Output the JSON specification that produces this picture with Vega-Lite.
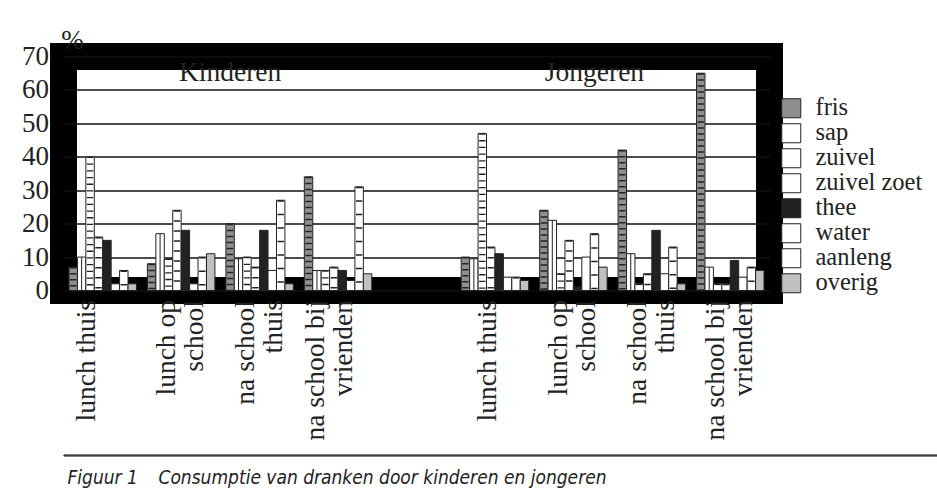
{
  "$schema": "https://vega.github.io/schema/vega-lite/v6.json",
  "background": "white",
  "padding": {"left": 7.5, "top": 12.5, "right": 0, "bottom": 0},
  "config": {"font": "Liberation Serif", "concat": {"spacing": -5}},
  "datasets": {
    "dranken": [
      {"cat": "Kinderen|lunch thuis", "drank": "fris", "pct": 7},
      {"cat": "Kinderen|lunch thuis", "drank": "sap", "pct": 10},
      {"cat": "Kinderen|lunch thuis", "drank": "zuivel", "pct": 40},
      {"cat": "Kinderen|lunch thuis", "drank": "zuivel zoet", "pct": 16},
      {"cat": "Kinderen|lunch thuis", "drank": "thee", "pct": 15},
      {"cat": "Kinderen|lunch thuis", "drank": "water", "pct": 2},
      {"cat": "Kinderen|lunch thuis", "drank": "aanleng", "pct": 6},
      {"cat": "Kinderen|lunch thuis", "drank": "overig", "pct": 2},
      {"cat": "Kinderen|lunch op school", "drank": "fris", "pct": 8},
      {"cat": "Kinderen|lunch op school", "drank": "sap", "pct": 17},
      {"cat": "Kinderen|lunch op school", "drank": "zuivel", "pct": 9.5},
      {"cat": "Kinderen|lunch op school", "drank": "zuivel zoet", "pct": 24},
      {"cat": "Kinderen|lunch op school", "drank": "thee", "pct": 18},
      {"cat": "Kinderen|lunch op school", "drank": "water", "pct": 2},
      {"cat": "Kinderen|lunch op school", "drank": "aanleng", "pct": 10},
      {"cat": "Kinderen|lunch op school", "drank": "overig", "pct": 11},
      {"cat": "Kinderen|na school thuis", "drank": "fris", "pct": 20},
      {"cat": "Kinderen|na school thuis", "drank": "sap", "pct": 9.5},
      {"cat": "Kinderen|na school thuis", "drank": "zuivel", "pct": 10},
      {"cat": "Kinderen|na school thuis", "drank": "zuivel zoet", "pct": 7},
      {"cat": "Kinderen|na school thuis", "drank": "thee", "pct": 18},
      {"cat": "Kinderen|na school thuis", "drank": "water", "pct": 6},
      {"cat": "Kinderen|na school thuis", "drank": "aanleng", "pct": 27},
      {"cat": "Kinderen|na school thuis", "drank": "overig", "pct": 2},
      {"cat": "Kinderen|na school bij vrienden", "drank": "fris", "pct": 34},
      {"cat": "Kinderen|na school bij vrienden", "drank": "sap", "pct": 6},
      {"cat": "Kinderen|na school bij vrienden", "drank": "zuivel", "pct": 6},
      {"cat": "Kinderen|na school bij vrienden", "drank": "zuivel zoet", "pct": 7},
      {"cat": "Kinderen|na school bij vrienden", "drank": "thee", "pct": 6},
      {"cat": "Kinderen|na school bij vrienden", "drank": "water", "pct": 3},
      {"cat": "Kinderen|na school bij vrienden", "drank": "aanleng", "pct": 31},
      {"cat": "Kinderen|na school bij vrienden", "drank": "overig", "pct": 5},
      {"cat": "Jongeren|lunch thuis", "drank": "fris", "pct": 10},
      {"cat": "Jongeren|lunch thuis", "drank": "sap", "pct": 9.5},
      {"cat": "Jongeren|lunch thuis", "drank": "zuivel", "pct": 47},
      {"cat": "Jongeren|lunch thuis", "drank": "zuivel zoet", "pct": 13},
      {"cat": "Jongeren|lunch thuis", "drank": "thee", "pct": 11},
      {"cat": "Jongeren|lunch thuis", "drank": "water", "pct": 4},
      {"cat": "Jongeren|lunch thuis", "drank": "aanleng", "pct": 4},
      {"cat": "Jongeren|lunch thuis", "drank": "overig", "pct": 3},
      {"cat": "Jongeren|lunch op school", "drank": "fris", "pct": 24},
      {"cat": "Jongeren|lunch op school", "drank": "sap", "pct": 21},
      {"cat": "Jongeren|lunch op school", "drank": "zuivel", "pct": 5},
      {"cat": "Jongeren|lunch op school", "drank": "zuivel zoet", "pct": 15},
      {"cat": "Jongeren|lunch op school", "drank": "thee", "pct": 1},
      {"cat": "Jongeren|lunch op school", "drank": "water", "pct": 10},
      {"cat": "Jongeren|lunch op school", "drank": "aanleng", "pct": 17},
      {"cat": "Jongeren|lunch op school", "drank": "overig", "pct": 7},
      {"cat": "Jongeren|na school thuis", "drank": "fris", "pct": 42},
      {"cat": "Jongeren|na school thuis", "drank": "sap", "pct": 11},
      {"cat": "Jongeren|na school thuis", "drank": "zuivel", "pct": 2},
      {"cat": "Jongeren|na school thuis", "drank": "zuivel zoet", "pct": 5},
      {"cat": "Jongeren|na school thuis", "drank": "thee", "pct": 18},
      {"cat": "Jongeren|na school thuis", "drank": "water", "pct": 5},
      {"cat": "Jongeren|na school thuis", "drank": "aanleng", "pct": 13},
      {"cat": "Jongeren|na school thuis", "drank": "overig", "pct": 2},
      {"cat": "Jongeren|na school bij vrienden", "drank": "fris", "pct": 65},
      {"cat": "Jongeren|na school bij vrienden", "drank": "sap", "pct": 7},
      {"cat": "Jongeren|na school bij vrienden", "drank": "zuivel", "pct": 2},
      {"cat": "Jongeren|na school bij vrienden", "drank": "zuivel zoet", "pct": 2},
      {"cat": "Jongeren|na school bij vrienden", "drank": "thee", "pct": 9},
      {"cat": "Jongeren|na school bij vrienden", "drank": "water", "pct": 4},
      {"cat": "Jongeren|na school bij vrienden", "drank": "aanleng", "pct": 7},
      {"cat": "Jongeren|na school bij vrienden", "drank": "overig", "pct": 6}
    ]
  },
  "vconcat": [
    {
      "width": 706,
      "height": 234,
      "view": {"stroke": "#000000", "strokeWidth": 27},
      "encoding": {
        "y": {
          "field": "pct", "type": "quantitative",
          "scale": {"domain": [0, 70], "nice": false},
          "axis": {
            "values": [0, 10, 20, 30, 40, 50, 60, 70], "tickCount": 10,
            "grid": true, "gridColor": "#111111", "gridWidth": 1.5,
            "domain": false, "ticks": false, "labelOverlap": false,
            "labelFont": "Liberation Serif", "labelFontSize": 27, "labelColor": "#222222",
            "labelPadding": 15, "labelExpr": "'\u2002' + datum.label",
            "title": "%", "titleAngle": 0, "titleX": 8.5, "titleY": -8,
            "titleAlign": "center", "titleBaseline": "alphabetic",
            "titleFont": "Liberation Serif", "titleFontSize": 27, "titleFontWeight": "normal", "titleColor": "#222222"
          }
        }
      },
      "layer": [
        {
          "data": {"name": "dranken"},
          "mark": {"type": "bar", "stroke": "#222222", "strokeWidth": 1},
          "encoding": {
            "x": {
              "field": "cat", "type": "nominal",
              "scale": {
                "domain": ["Kinderen|lunch thuis", "Kinderen|lunch op school", "Kinderen|na school thuis", "Kinderen|na school bij vrienden", " ", "Jongeren|lunch thuis", "Jongeren|lunch op school", "Jongeren|na school thuis", "Jongeren|na school bij vrienden"],
                "paddingInner": 0.14, "paddingOuter": 0.07
              },
              "axis": {
                "title": null, "domain": false, "ticks": false, "grid": false,
                "labelAngle": 270, "labelAlign": "right", "labelBaseline": "middle",
                "labelPadding": 9, "labelFont": "Liberation Serif", "labelFontSize": 27.5,
                "labelColor": "#222222", "labelLineHeight": 28, "labelLimit": 0, "labelOverlap": false,
                "labelOffset": {
                  "condition": [
                    {"test": "datum.value === 'Kinderen|lunch thuis'", "value": -16},
                    {"test": "datum.value === 'Jongeren|lunch thuis'", "value": -7},
                    {"test": "datum.value === 'Kinderen|na school bij vrienden'", "value": -22}
                  ],
                  "value": -14
                },
                "labelExpr": "indexof(datum.value, 'lunch thuis') >= 0 ? 'lunch thuis' : indexof(datum.value, 'lunch op school') >= 0 ? ['lunch op', 'school'] : indexof(datum.value, 'bij vrienden') >= 0 ? ['na school bij', 'vrienden'] : indexof(datum.value, 'na school thuis') >= 0 ? ['na school', 'thuis'] : ''"
              }
            },
            "xOffset": {
              "field": "drank", "type": "nominal",
              "scale": {"domain": ["fris", "sap", "zuivel", "zuivel zoet", "thee", "water", "aanleng", "overig"], "paddingInner": 0, "paddingOuter": 0}
            },
            "fill": {
              "field": "drank", "type": "nominal",
              "scale": {
                "domain": ["fris", "sap", "zuivel", "zuivel zoet", "thee", "water", "aanleng", "overig"],
                "range": ["#8f8f8f", "#ffffff", "#ffffff", "#ffffff", "#222222", "#ffffff", "#ffffff", "#c0c0c0"]
              },
              "legend": {
                "title": null, "orient": "none", "legendX": 715.5, "legendY": 39.5,
                "symbolType": "square", "symbolSize": 361, "symbolStrokeColor": "#222222", "symbolStrokeWidth": 1,
                "labelFont": "Liberation Serif", "labelFontSize": 24.5, "labelColor": "#222222",
                "labelOffset": 12, "rowPadding": 0, "padding": 0
              }
            }
          }
        },
        {
          "data": {"name": "dranken"},
          "transform": [{"filter": {"field": "drank", "oneOf": ["fris", "zuivel", "zuivel zoet", "aanleng"]}}],
          "mark": {"type": "rule", "stroke": "#222222", "strokeWidth": 6.4, "strokeCap": "butt"},
          "encoding": {
            "x": {"field": "cat", "type": "nominal"},
            "xOffset": {"field": "drank", "type": "nominal"},
            "y2": {"datum": 0},
            "strokeDash": {
              "field": "drank", "type": "nominal",
              "scale": {"domain": ["fris", "zuivel", "zuivel zoet", "aanleng"], "range": [[1.5, 4.5], [1.3, 5.4], [1.5, 8.5], [1.5, 12]]},
              "legend": null
            }
          }
        },
        {
          "data": {"name": "dranken"},
          "transform": [{"filter": {"field": "drank", "equal": "sap"}}],
          "mark": {"type": "rule", "stroke": "#222222", "strokeWidth": 1},
          "encoding": {
            "x": {"field": "cat", "type": "nominal"},
            "xOffset": {"field": "drank", "type": "nominal"},
            "y2": {"datum": 0}
          }
        },
        {
          "data": {"values": [{"groep": "Kinderen", "pct": 62.6}]},
          "mark": {"type": "text", "align": "center", "baseline": "alphabetic", "font": "Liberation Serif", "fontSize": 27.5, "color": "#222222"},
          "encoding": {
            "x": {"datum": "Kinderen|na school thuis", "type": "nominal"},
            "xOffset": {"datum": "fris", "type": "nominal"},
            "text": {"field": "groep"}
          }
        },
        {
          "data": {"values": [{"groep": "Jongeren", "pct": 62.6}]},
          "mark": {"type": "text", "align": "center", "baseline": "alphabetic", "font": "Liberation Serif", "fontSize": 27.5, "color": "#222222"},
          "encoding": {
            "x": {"datum": "Jongeren|lunch op school", "type": "nominal"},
            "xOffset": {"datum": "aanleng", "type": "nominal"},
            "text": {"field": "groep"}
          }
        }
      ]
    },
    {
      "width": 928,
      "height": 1,
      "data": {"values": []},
      "mark": "point",
      "view": {"stroke": "#000000", "strokeWidth": 1},
      "title": {
        "text": "Figuur 1\u2003\u2009Consumptie van dranken door kinderen en jongeren",
        "anchor": "start", "frame": "group", "orient": "bottom", "offset": 28, "dx": 4,
        "baseline": "alphabetic", "font": "Liberation Sans Narrow, DejaVu Sans Condensed, Liberation Sans", "fontStyle": "italic",
        "fontWeight": "normal", "fontSize": 19, "color": "#222222"
      }
    }
  ]
}
